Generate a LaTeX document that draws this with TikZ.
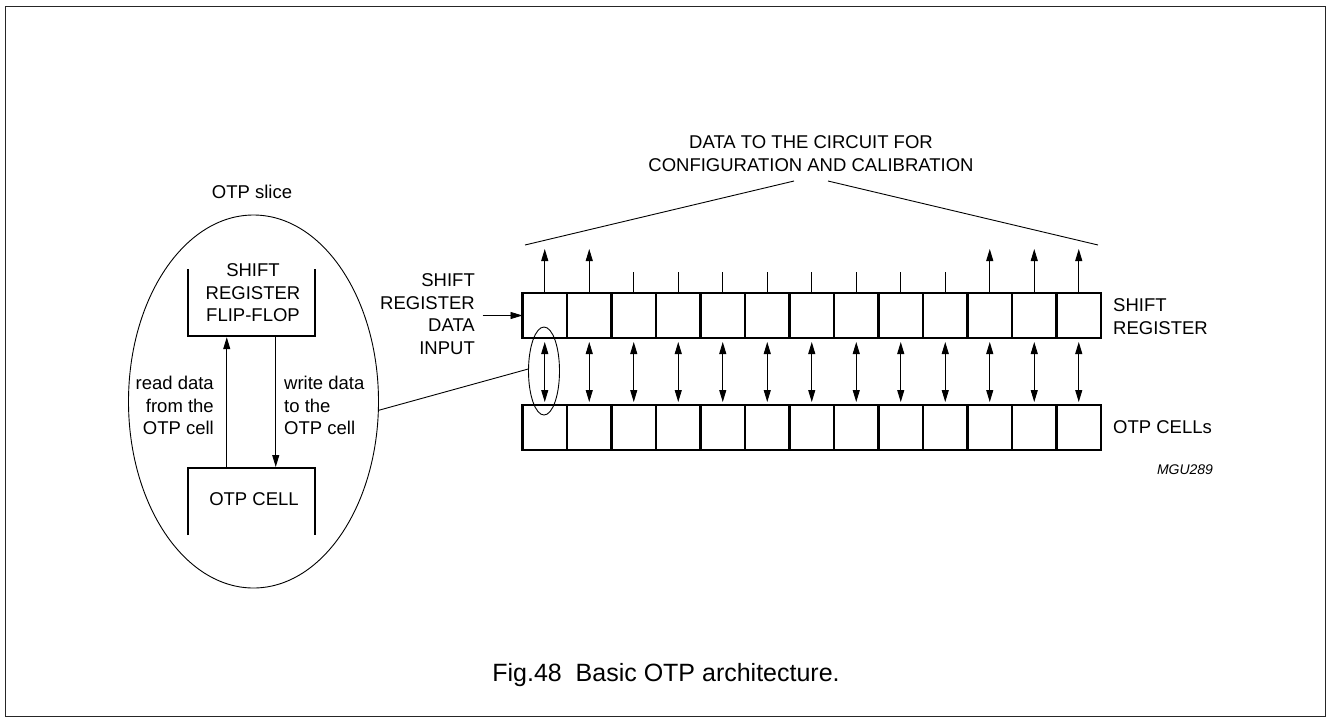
\documentclass[tikz,border=0pt]{standalone}
\usepackage{fontspec}
\setmainfont{Liberation Sans}
\usetikzlibrary{arrows.meta,shapes.geometric}
\begin{document}
\begin{tikzpicture}[x=1pt,y=-1pt,
  cell/.style={draw, line width=2.2pt, minimum width=44.5pt, minimum height=45pt, inner sep=0pt, outer sep=0pt},
  thinline/.style={line width=0.9pt},
  tip/.style={-{Triangle[length=12pt,width=7pt]}},
  bitip/.style={{Triangle[length=12pt,width=7pt]}-{Triangle[length=12pt,width=7pt]}},
  lbl/.style={font=\fontsize{18.5}{22.5}\selectfont, inner sep=0pt},
  bracket/.style={line width=2.2pt},
  boxarea/.style={inner sep=0pt, outer sep=0pt, minimum width=127.3pt},
  ]
\useasboundingbox (0,0) rectangle (1327,718);
\draw[line width=1.8pt, black!85] (5.5,6.5) rectangle (1325.5,716.5);

% title and fan lines
\node[lbl, align=center] (title) at (811,153.5) {DATA TO THE CIRCUIT FOR\\CONFIGURATION AND CALIBRATION};
\coordinate (tl) at (794,181);
\coordinate (tr) at (828,181);
\coordinate (fl) at (525,245);
\coordinate (fr) at (1098,245);
\draw[thinline] (tl) -- (fl);
\draw[thinline] (tr) -- (fr);

% cells
\foreach \i in {1,...,13} {
  \node[cell] (sr\i) at ({522.5+44.5*(\i-0.5)},315.5) {};
  \node[cell] (otp\i) at ({522.5+44.5*(\i-0.5)},427.5) {};
}
\foreach \i in {1,...,13} {
  \draw[thinline,bitip] ([yshift=-4pt]sr\i.south) -- ([yshift=3pt]otp\i.north);
}
\foreach \i in {1,2,11,12,13} {
  \draw[thinline,tip] (sr\i.north) -- ++(0,-44);
}
\foreach \i in {3,...,10} {
  \draw[thinline] (sr\i.north) -- ++(0,-21);
}

% input
\node[lbl, align=right, anchor=east] (inlbl) at (475,314) {SHIFT\\REGISTER\\DATA\\INPUT};
\draw[thinline,tip] ([xshift=-40pt]sr1.west) -- (sr1.west);

% right labels
\node[lbl, align=left, anchor=west] (srlbl) at (1113,316.5) {SHIFT\\REGISTER};
\node[lbl, anchor=west] (otplbl) at (1113,427) {OTP CELLs};
\node[font=\fontsize{14}{16}\selectfont\itshape, inner sep=0pt] (code) at (1185,470) {MGU289};

% OTP slice
\node[lbl] (slicelbl) at (252,192) {OTP slice};
\node[draw, ellipse, thinline, minimum width=250pt, minimum height=373pt, inner sep=0pt] (big) at (253.5,401.5) {};
\node[draw, ellipse, thinline, minimum width=31pt, minimum height=88pt, inner sep=0pt] (small) at (544,371) {};
\draw[thinline] (big.-4) -- (small.173);

\node[boxarea, minimum height=66.7pt] (ffbox) at (251.35,302.35) {};
\node[boxarea, minimum height=67pt] (ocbox) at (251.35,501.5) {};
\draw[bracket] (ffbox.north west) -- (ffbox.south west) -- (ffbox.south east) -- (ffbox.north east);
\draw[bracket] (ocbox.south west) -- (ocbox.north west) -- (ocbox.north east) -- (ocbox.south east);
\node[lbl, align=center] (fftext) at (253,293) {SHIFT\\REGISTER\\FLIP-FLOP};
\node[lbl] (octext) at (254,499) {OTP CELL};

\draw[thinline,tip] ([xshift=-24.6pt]ocbox.north) -- ([xshift=-24.6pt,yshift=-1.5pt]ffbox.south);
\draw[thinline,tip] ([xshift=24.4pt,yshift=-1pt]ffbox.south) -- ([xshift=24.4pt,yshift=1pt]ocbox.north);
\node[lbl, align=right, anchor=east] (readlbl) at (214,405.7) {read data\\from the\\OTP cell};
\node[lbl, align=left, anchor=west] (writelbl) at (284,405.7) {write data\\to the\\OTP cell};

% caption
\node[font=\fontsize{25}{28}\selectfont, inner sep=0pt] (caption) at (666,675) {Fig.48\ \ Basic OTP architecture.};
\end{tikzpicture}
\end{document}
